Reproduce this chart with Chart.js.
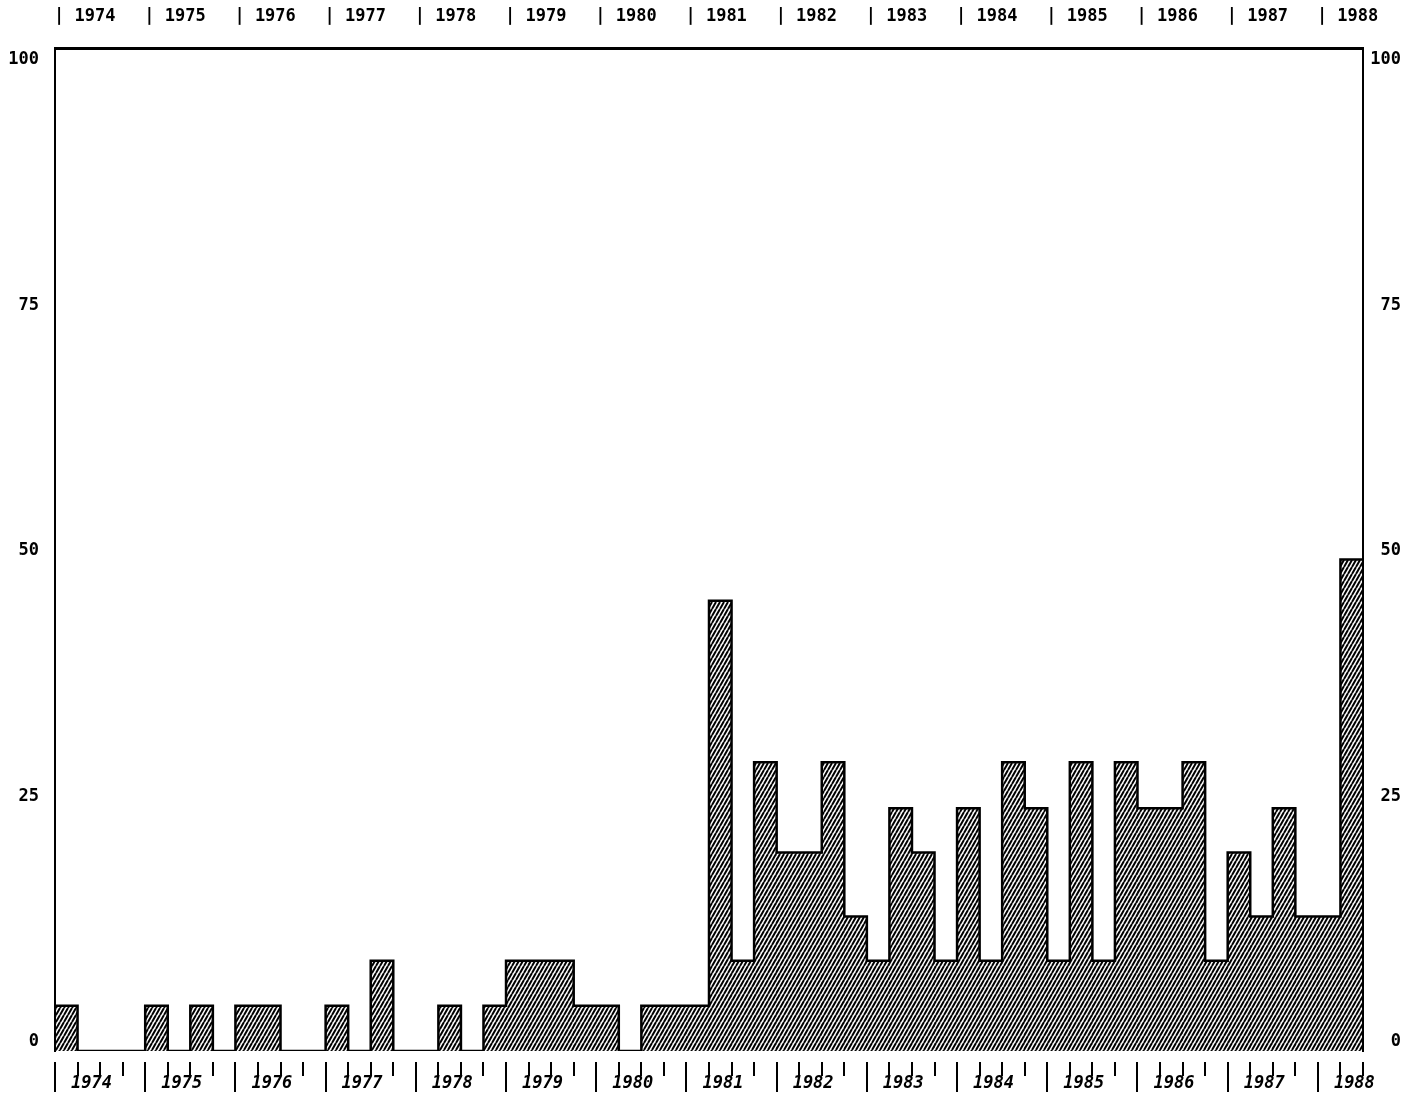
<!DOCTYPE html>
<html>
<head>
<meta charset="utf-8">
<script src="https://cdn.jsdelivr.net/npm/chart.js@4.4.1/dist/chart.umd.min.js"></script>
<style>
  html, body { margin: 0; padding: 0; background: #fff; }
</style>
</head>
<body>
<canvas id="histo" width="1418" height="1099"></canvas>
<script>
// one label per year, one value per quarter (1974 Q1 .. 1988 Q2)
const years = [1974, 1975, 1976, 1977, 1978, 1979, 1980, 1981, 1982, 1983, 1984, 1985, 1986, 1987, 1988];
const counts = [
  4.5, 0, 0, 0,
  4.5, 0, 4.5, 0,
  4.5, 4.5, 0, 0,
  4.5, 0, 9, 0,
  0, 4.5, 0, 4.5,
  9, 9, 9, 4.5,
  4.5, 0, 4.5, 4.5,
  4.5, 44.9, 9, 28.8,
  19.8, 19.8, 28.8, 13.4,
  9, 24.2, 19.8, 9,
  24.2, 9, 28.8, 24.2,
  9, 28.8, 9, 28.8,
  24.2, 24.2, 28.8, 9,
  19.8, 13.4, 24.2, 13.4,
  13.4, 49
];
const yTicks = [0, 25, 50, 75, 100];

const mono = 'DejaVu Sans Mono';

// diagonal hatch like the printed original
function makeHatch() {
  const c = document.createElement('canvas');
  c.width = 4;
  c.height = 7;
  const g = c.getContext('2d');
  g.strokeStyle = '#000';
  g.lineWidth = 2;
  for (const off of [-4, 0, 4]) {
    g.beginPath();
    g.moveTo(off, 7);
    g.lineTo(off + 4, 0);
    g.stroke();
  }
  return g.createPattern(c, 'repeat');
}

const quarterTicks = {
  id: 'quarterTicks',
  afterDraw(chart) {
    const xs = chart.scales.x;
    const ctx = chart.ctx;
    const base = chart.chartArea.bottom;
    ctx.save();
    ctx.strokeStyle = '#000';
    ctx.lineWidth = 2;
    for (let q = 0; q <= counts.length; q++) {
      const px = Math.round(xs.getPixelForValue(q));
      ctx.beginPath();
      ctx.moveTo(px, base + 11);
      ctx.lineTo(px, base + (q % 4 === 0 ? 41 : 25));
      ctx.stroke();
    }
    ctx.restore();
  }
};

const labelAxis = (position, width) => ({
  type: 'linear',
  position: position,
  min: -0.92,
  max: 101.22,
  afterBuildTicks: (s) => { s.ticks = yTicks.map(v => ({ value: v })); },
  afterFit: (s) => { s.width = width; },
  grid: { display: false, drawTicks: false },
  border: { display: true, color: '#000', width: 2 },
  ticks: {
    color: '#000',
    padding: 16,
    crossAlign: position === 'left' ? 'near' : 'far',
    font: { family: mono, weight: 'bold', size: 17 },
    callback: (v) => String(v)
  }
});

new Chart(document.getElementById('histo'), {
  type: 'bar',
  data: {
    datasets: [
      {
        type: 'line',
        data: counts.map((v, i) => ({ x: i, y: v })).concat([{ x: counts.length, y: counts[counts.length - 1] }]),
        stepped: true,
        borderColor: '#000',
        borderWidth: 2.5,
        pointRadius: 0,
        fill: false,
        xAxisID: 'x',
        yAxisID: 'y',
        order: 0
      },
      {
        data: counts.map((v, i) => ({ x: i + 0.5, y: v })),
        backgroundColor: makeHatch(),
        borderWidth: 0,
        barPercentage: 1,
        categoryPercentage: 1,
        xAxisID: 'x',
        yAxisID: 'y',
        order: 1
      }
    ]
  },
  options: {
    responsive: false,
    animation: false,
    layout: { padding: { left: 0, right: 17, top: 0, bottom: 0 } },
    plugins: {
      legend: { display: false },
      tooltip: { enabled: false }
    },
    scales: {
      x: {
        type: 'linear',
        position: 'bottom',
        offset: false,
        min: 0,
        max: counts.length,
        afterFit: (s) => { s.height = 48; },
        grid: { display: false, drawTicks: false, offset: false },
        border: { display: false },
        ticks: {
          stepSize: 1,
          autoSkip: false,
          maxRotation: 0,
          align: 'start',
          labelOffset: 16,
          padding: 22,
          color: '#000',
          font: { family: mono, weight: 'bold', style: 'italic', size: 17 },
          callback: (v) => (v % 4 === 0 && years[v / 4] !== undefined) ? String(years[v / 4]) : ''
        }
      },
      x2: {
        type: 'linear',
        position: 'top',
        offset: false,
        min: 0,
        max: counts.length,
        afterFit: (s) => { s.height = 48; },
        grid: { display: false, drawTicks: false, offset: false },
        border: { display: true, color: '#000', width: 3 },
        ticks: {
          stepSize: 4,
          autoSkip: false,
          maxRotation: 0,
          align: 'start',
          labelOffset: -1,
          padding: 21,
          color: '#000',
          font: { family: mono, weight: 'bold', size: 17 },
          callback: (v) => (v % 4 === 0 && years[v / 4] !== undefined) ? '| ' + years[v / 4] : ''
        }
      },
      y: {
        type: 'linear',
        display: false,
        min: 0,
        max: 100
      },
      yl: labelAxis('left', 55),
      yr: labelAxis('right', 38)
    }
  },
  plugins: [quarterTicks]
});
</script>
</body>
</html>
